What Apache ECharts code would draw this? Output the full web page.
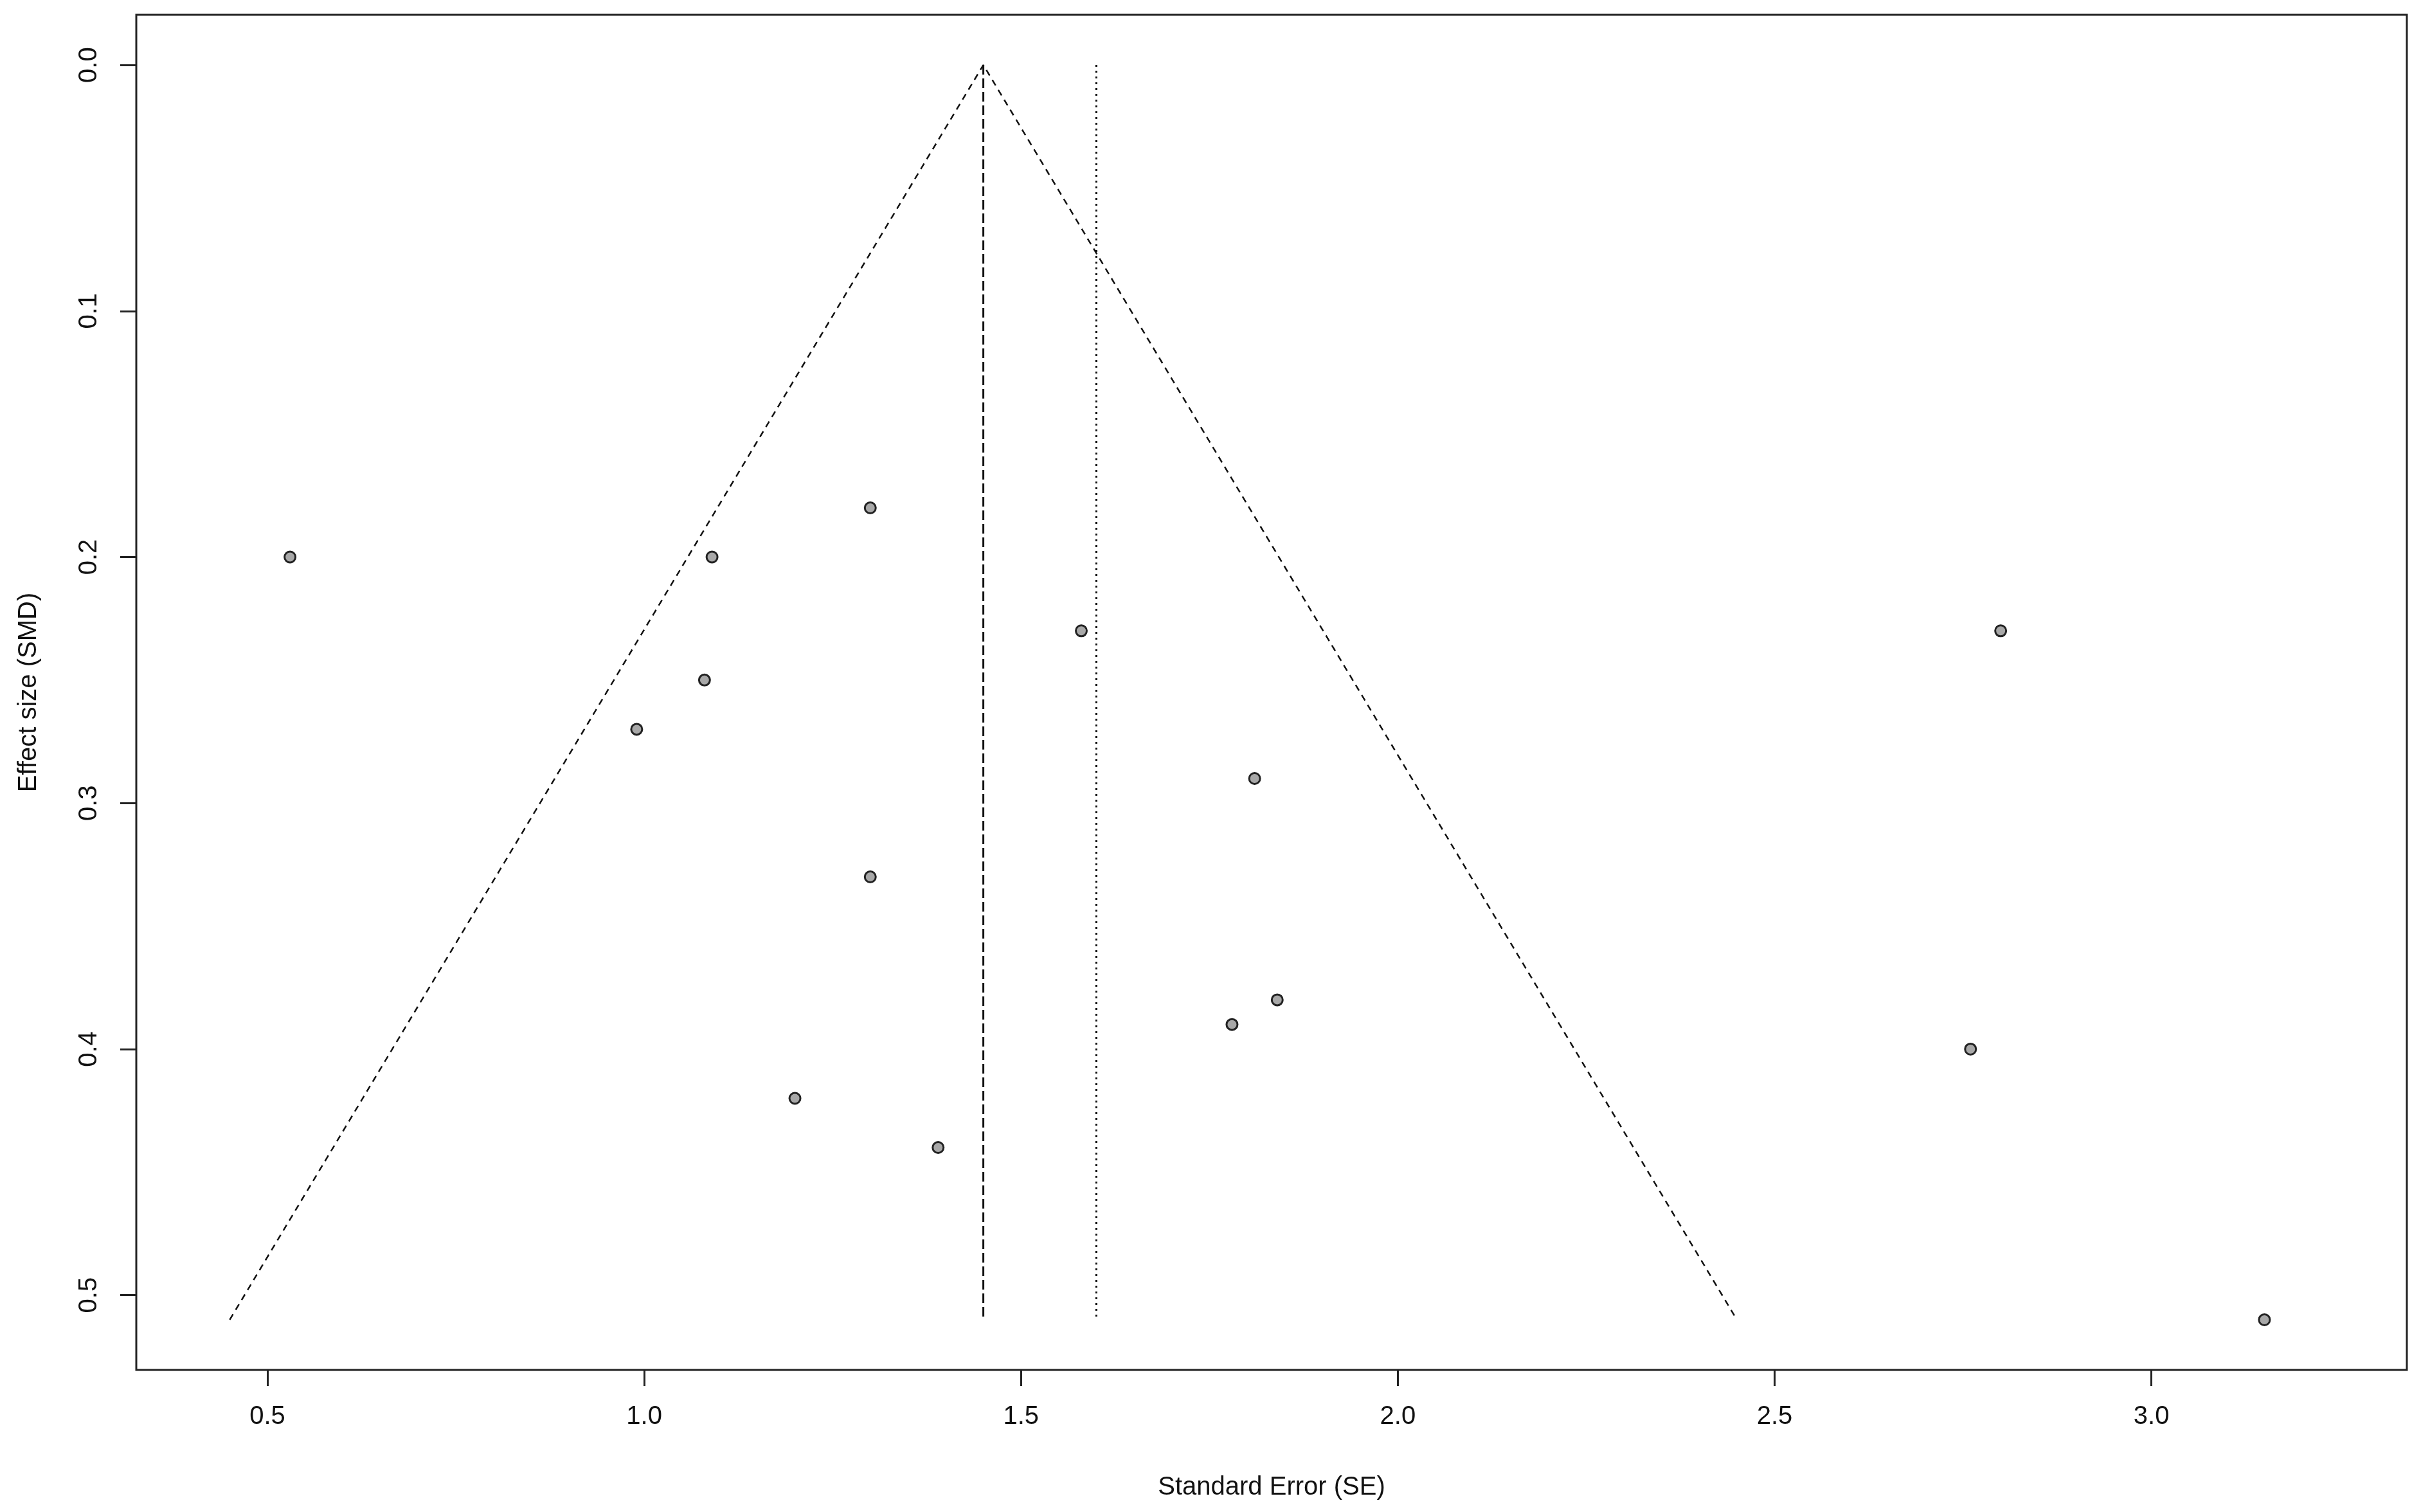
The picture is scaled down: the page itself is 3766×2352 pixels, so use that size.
<!DOCTYPE html>
<html lang="en">
<head>
  <meta charset="utf-8">
  <title>Funnel plot</title>
  <script src="https://cdn.jsdelivr.net/npm/echarts@6.0.0/dist/echarts.min.js"></script>
  <style>
    html, body { margin: 0; padding: 0; background: #fff; }
    #chart { width: 3766px; height: 2352px; }
  </style>
</head>
<body>
  <div id="chart"></div>
  <script>
    // studies: standard error (x) and effect size (y)
    var seVals  = [0.53, 1.09, 1.30, 1.08, 0.99, 1.58, 1.30, 1.20, 1.39, 1.81, 1.78, 1.84, 2.80, 2.76, 3.15];
    var smdVals = [0.20, 0.20, 0.18, 0.25, 0.27, 0.23, 0.33, 0.42, 0.44, 0.29, 0.39, 0.38, 0.23, 0.40, 0.51];

    // funnel outline and reference lines
    var funnelX = [0.45, 1.45, 2.45];
    var funnelY = [0.51, 0.00, 0.51];
    var pooledX = 1.45;
    var otherX = 1.60;
    var lineTop = 0.00;
    var lineBottom = 0.51;

    var xTicks = [0.5, 1.0, 1.5, 2.0, 2.5, 3.0];
    var yTicks = [0.0, 0.1, 0.2, 0.3, 0.4, 0.5];

    var chart = echarts.init(document.getElementById('chart'));
    var font = 'Liberation Sans, Arial, sans-serif';

    var option = {
      backgroundColor: '#fff',
      animation: false,
      grid: {
        left: 212, right: 22, top: 23, bottom: 221,
        show: true, borderColor: '#222', borderWidth: 3, backgroundColor: 'transparent'
      },
      xAxis: {
        type: 'value',
        position: 'bottom',
        min: 0.326, max: 3.339,
        name: 'Standard Error (SE)',
        nameLocation: 'middle',
        nameGap: 163,
        nameTextStyle: { fontFamily: font, fontSize: 40, color: '#111' },
        axisLine: { show: false, onZero: false },
        splitLine: { show: false },
        axisTick: { show: true, length: 25, lineStyle: { color: '#222', width: 3 }, customValues: xTicks },
        axisLabel: {
          customValues: xTicks, margin: 53,
          fontFamily: font, fontSize: 40, color: '#111',
          formatter: function (v) { return v.toFixed(1); }
        }
      },
      yAxis: {
        type: 'value',
        position: 'left',
        inverse: true,
        min: -0.0204, max: 0.5304,
        name: 'Effect size (SMD)',
        nameLocation: 'middle',
        nameGap: 147,
        nameRotate: 90,
        nameTextStyle: { fontFamily: font, fontSize: 40, color: '#111' },
        axisLine: { show: false, onZero: false },
        splitLine: { show: false },
        axisTick: { show: true, length: 25, lineStyle: { color: '#222', width: 3 }, customValues: yTicks },
        axisLabel: {
          customValues: yTicks, margin: 53, rotate: 90,
          fontFamily: font, fontSize: 40, color: '#111',
          formatter: function (v) { return v.toFixed(1); }
        }
      },
      series: [
        {
          type: 'line',
          data: funnelX.map(function (x, i) { return [x, funnelY[i]]; }),
          symbol: 'none',
          lineStyle: { color: '#111', width: 2.5, type: [10, 8] },
          z: 2
        },
        {
          type: 'line',
          data: [[pooledX, lineTop], [pooledX, lineBottom]],
          symbol: 'none',
          lineStyle: { color: '#111', width: 3, type: [15, 6] },
          z: 2
        },
        {
          type: 'line',
          data: [[otherX, lineTop], [otherX, lineBottom]],
          symbol: 'none',
          lineStyle: { color: '#111', width: 3, type: [3, 6] },
          z: 2
        },
        {
          type: 'scatter',
          data: seVals.map(function (x, i) { return [x, smdVals[i]]; }),
          symbol: 'circle',
          symbolSize: 17,
          itemStyle: { color: '#a8a8a8', borderColor: '#222', borderWidth: 3, opacity: 1 },
          z: 5
        }
      ]
    };

    chart.setOption(option);
  </script>
</body>
</html>
